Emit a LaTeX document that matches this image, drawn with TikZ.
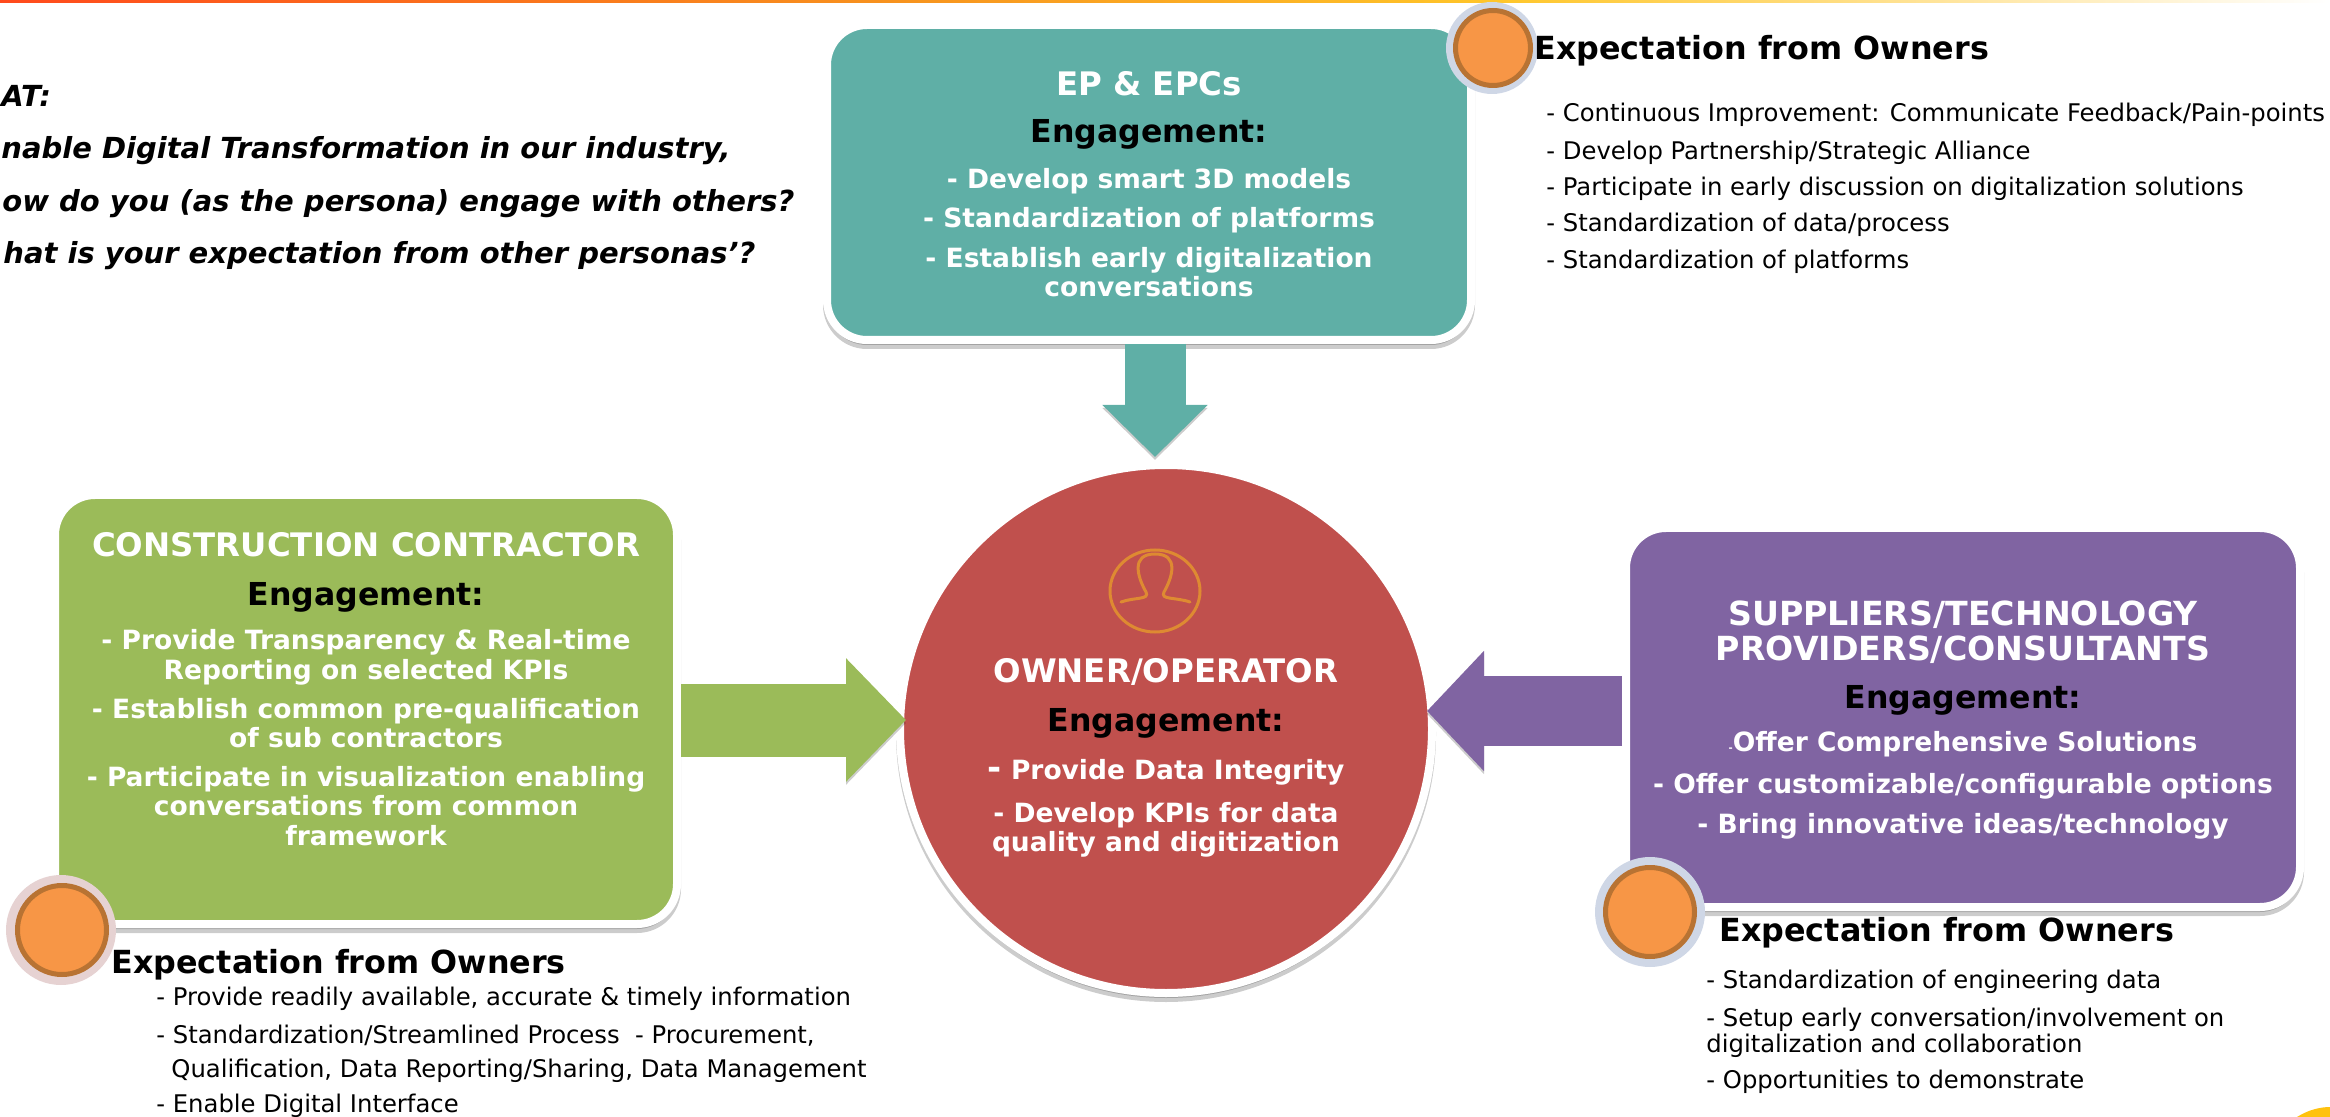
\documentclass[tikz,border=0pt]{standalone}
\usepackage{fontspec}
\setmainfont{DejaVu Sans}
\usetikzlibrary{arrows.meta,shadows,shapes.geometric}

\definecolor{clrteal}{HTML}{5FAFA6}
\definecolor{clrgreen}{HTML}{9BBB59}
\definecolor{clrred}{HTML}{C0504D}
\definecolor{clrpurple}{HTML}{8064A2}
\definecolor{clrorange}{HTML}{F79646}
\definecolor{clrring}{HTML}{B87333}
\definecolor{clrhalo}{HTML}{CFD7E6}
\definecolor{clrpink}{HTML}{E6D2D2}
\definecolor{clricon}{HTML}{DE8A32}
\definecolor{clrbarone}{HTML}{FF4A1C}
\definecolor{clrbartwo}{HTML}{F7931E}
\definecolor{clrbarthree}{HTML}{FFC62A}
\definecolor{clrcorner}{HTML}{FFC20E}

\tikzset{
	softshadow/.style={general shadow={fill=black,draw=black,line width=4pt,opacity=0.2,shadow yshift=-2.5pt}},
	card/.style={draw=white,line width=4pt,rounded corners=20pt,inner sep=0pt,outer sep=0pt,softshadow},
	round/.style={ellipse,draw=white,line width=4pt,inner sep=0pt,outer sep=0pt,softshadow},
	badge/.style={circle,fill=clrorange,draw=clrring,line width=2.5pt,minimum size=44.5pt,inner sep=0pt},
	halo/.style={circle,minimum size=55pt,inner sep=0pt},
	blockarrow/.style={preaction={draw=black,draw opacity=0.2,transform canvas={yshift=-1.5pt}}},
	cardtext/.style={align=center,text=white,font=\fontsize{13.25}{14.6}\selectfont\bfseries},
	headtext/.style={anchor=west,inner sep=0pt,font=\fontsize{15.9}{18}\selectfont\bfseries},
	listtext/.style={anchor=west,inner sep=0pt,font=\fontsize{12.15}{13.2}\selectfont},
	asktext/.style={anchor=west,inner sep=0pt,font=\fontsize{14.5}{16}\selectfont\bfseries\itshape}
}

\begin{document}
\begin{tikzpicture}[x=0.5pt,y=-0.5pt]

\def\ttl{\fontsize{16.2}{18}\selectfont}
\def\wttl{\fontsize{16.6}{18}\selectfont}
\def\eng{\fontsize{15.8}{18}\selectfont\color{black}}

\useasboundingbox (0,0) rectangle (2330,1117);

% top bar
\fill [left color=clrbarone,right color=clrbartwo] (0,0) rectangle (900,3);
\fill [left color=clrbartwo,right color=clrbarthree] (900,0) rectangle (1500,3);
\fill [left color=clrbarthree,right color=white] (1500,0) rectangle (2330,3);

% corner
\fill [clrcorner] (2297,1117) .. controls (2308,1110) and (2320,1107) .. (2330,1107) -- (2330,1117) -- cycle;

% question
\node [asktext] (askhead) at (1,96) {AT:};
\node [asktext] (askone) at (1,151) {nable Digital Transformation in our industry,};
\node [asktext] (asktwo) at (2,204) {ow do you (as the persona) engage with others?};
\node [asktext] (askthree) at (3,256) {hat is your expectation from other personas’?};

% cards
\node [card,fill=clrteal,minimum width=322pt,minimum height=157.5pt] (epc) at (1149,182.5) {};
\node [card,fill=clrgreen,minimum width=311pt,minimum height=214.5pt] (contractor) at (366,709.5) {};
\node [card,fill=clrpurple,minimum width=337pt,minimum height=189.5pt] (suppliers) at (1963,717.5) {};
\node [round,fill=clrred,minimum width=266pt,minimum height=264pt] (owner) at (1166,729) {};

% arrows
\draw [blockarrow,clrteal,line width=30.5pt,-{Triangle[width=51pt,length=26pt]},shorten <=2pt]
	([xshift=3pt]epc.south) -- ([xshift=-5.5pt,yshift=4pt]owner.north);
\draw [blockarrow,clrgreen,line width=36.5pt,-{Triangle[width=60pt,length=30pt]},shorten <=2pt]
	([yshift=-5.25pt]contractor.east) -- ([xshift=3pt,yshift=4.5pt]owner.west);
\draw [blockarrow,clrpurple,line width=35pt,-{Triangle[width=58.5pt,length=28.5pt]},shorten <=2pt]
	([yshift=3.25pt]suppliers.west) -- ([xshift=-2.5pt,yshift=9pt]owner.east);

% texts in cards
\node [cardtext] (epctext) at (1149,184) {{\ttl EP \& EPCs}\\[9pt]{\eng Engagement:}\\[8.5pt]
	- Develop smart 3D models\\[5pt]- Standardization of platforms\\[5pt]- Establish early digitalization\\conversations};
\node [cardtext] (contractortext) at (366,689) {{\ttl CONSTRUCTION CONTRACTOR}\\[10pt]{\eng Engagement:}\\[7.5pt]
	- Provide Transparency \& Real-time\\Reporting on selected KPIs\\[5pt]- Establish common pre-qualification\\of sub contractors\\[5pt]- Participate in visualization enabling\\conversations from common\\framework};
\node [cardtext] (supplierstext) at (1963,720) {{\wttl SUPPLIERS/TECHNOLOGY}\\[2.9pt]{\wttl PROVIDERS/CONSULTANTS}\\[9.2pt]{\eng Engagement:}\\[6.9pt]
	{\fontsize{5}{5}\selectfont -}Offer Comprehensive Solutions\\[6.4pt]- Offer customizable/configurable options\\[5.4pt]- Bring innovative ideas/technology};
\node [cardtext] (ownertext) at (1166,758) {{\ttl OWNER/OPERATOR}\\[9.6pt]{\eng Engagement:}\\[9.6pt]
	{\fontsize{17}{14.6}\selectfont -} Provide Data Integrity\\[6.6pt]- Develop KPIs for data\\quality and digitization};

% person icon
\begin{scope}[clricon,line width=1.5pt,line cap=round]
	\node [ellipse,draw,minimum width=45pt,minimum height=41pt,inner sep=0pt] (icon) at (1155,591) {};
	\draw (1121,602) .. controls (1135,597) and (1150,600) .. (1146,592)
		.. controls (1138,578) and (1130,554) .. (1155,554)
		.. controls (1180,554) and (1172,578) .. (1164,592)
		.. controls (1160,600) and (1175,597) .. (1190,602);
\end{scope}

% badges
\node [halo,fill=clrhalo,minimum size=46pt] (epchalo) at (1492,48) {};
\node [badge,minimum size=37.5pt] (epcbadge) at (1493,48) {};
\node [halo,fill=clrpink] (contractorhalo) at (61,930) {};
\node [badge] (contractorbadge) at (62,930) {};
\node [halo,fill=clrhalo] (suppliershalo) at (1650,912) {};
\node [badge] (suppliersbadge) at (1650,912) {};

% expectations, top
\node [headtext] (epchead) at (1534,51) {Expectation from Owners};
\node [listtext] (epcone) at (1546,115) {- Continuous Improvement: Communicate Feedback/Pain-points};
\node [listtext] (epctwo) at (1546,153) {- Develop Partnership/Strategic Alliance};
\node [listtext] (epcthree) at (1546,189) {- Participate in early discussion on digitalization solutions};
\node [listtext] (epcfour) at (1546,225) {- Standardization of data/process};
\node [listtext] (epcfive) at (1546,262) {- Standardization of platforms};

% expectations, left
\node [headtext] (contractorhead) at (111,965) {Expectation from Owners};
\node [listtext] (contractorone) at (156,999) {- Provide readily available, accurate \& timely information};
\node [listtext] (contractortwo) at (156,1036) {- Standardization/Streamlined Process\ \ - Procurement,};
\node [listtext] (contractorthree) at (171,1071) {Qualification, Data Reporting/Sharing, Data Management};
\node [listtext] (contractorfour) at (156,1106) {- Enable Digital Interface};

% expectations, right
\node [headtext] (suppliershead) at (1719,933) {Expectation from Owners};
\node [listtext] (suppliersone) at (1706,982) {- Standardization of engineering data};
\node [listtext,align=left] (supplierstwo) at (1706,1033) {- Setup early conversation/involvement on\\digitalization and collaboration};
\node [listtext] (suppliersthree) at (1706,1082) {- Opportunities to demonstrate};

\end{tikzpicture}
\end{document}
